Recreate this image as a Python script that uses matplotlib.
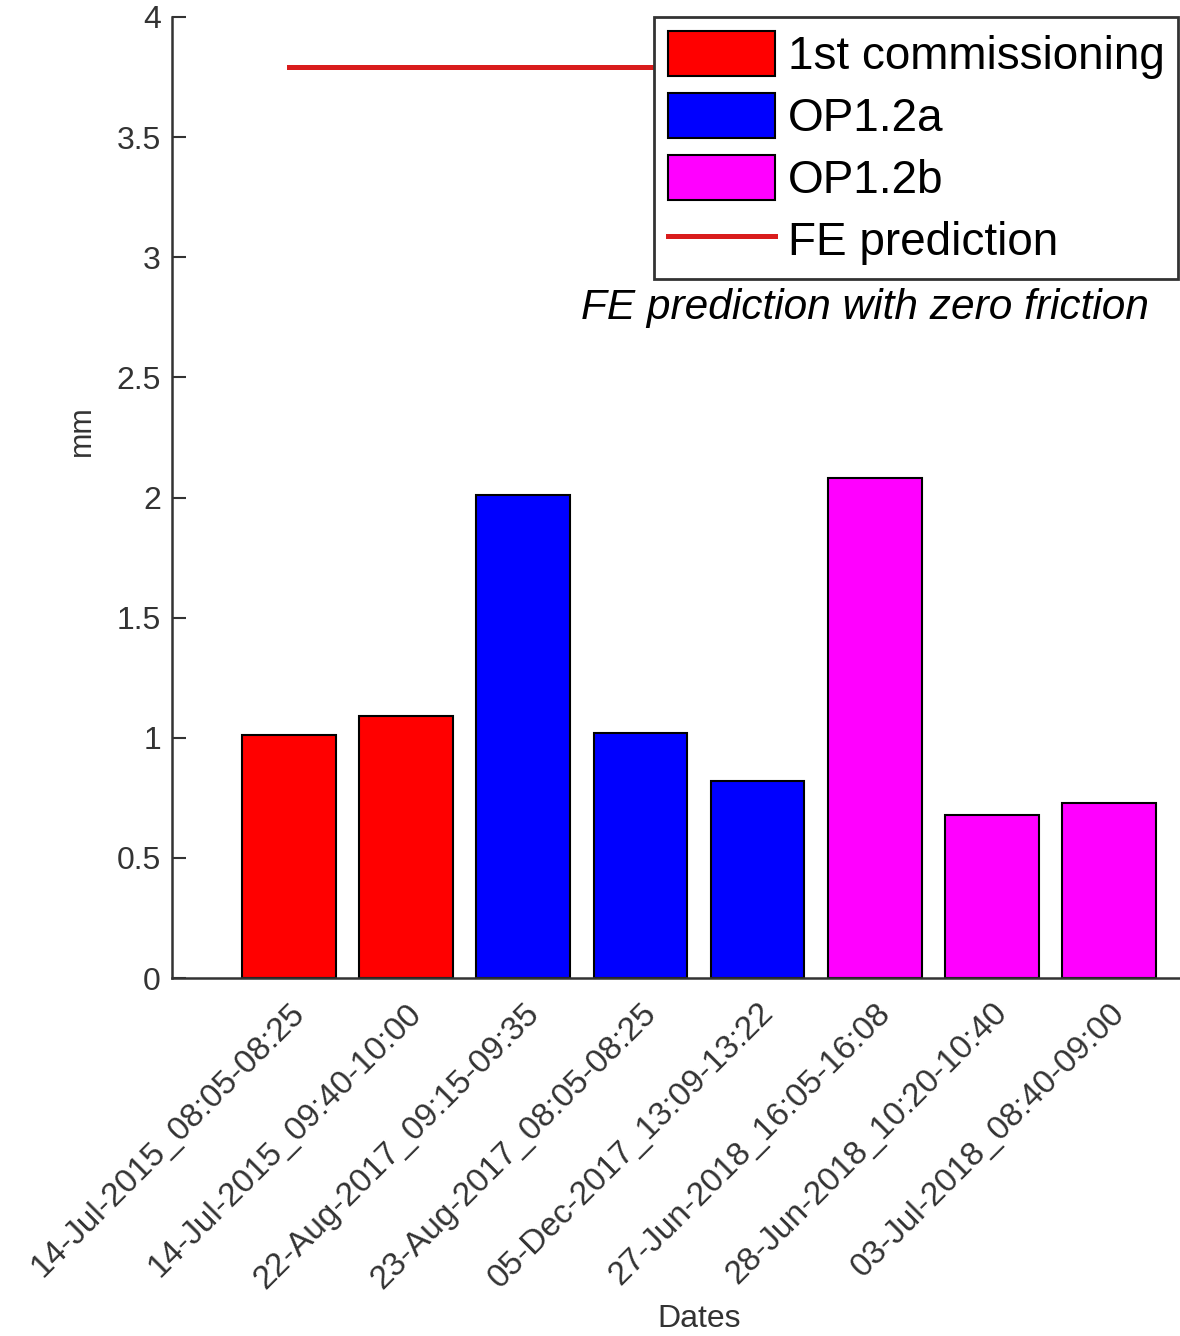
import numpy as np
import matplotlib.pyplot as plt
from matplotlib.patches import Patch
from matplotlib.lines import Line2D

# data
dates = ['14-Jul-2015_08:05-08:25', '14-Jul-2015_09:40-10:00',
         '22-Aug-2017_09:15-09:35', '23-Aug-2017_08:05-08:25',
         '05-Dec-2017_13:09-13:22', '27-Jun-2018_16:05-16:08',
         '28-Jun-2018_10:20-10:40', '03-Jul-2018_08:40-09:00']
values = [1.01, 1.09, 2.01, 1.02, 0.82, 2.08, 0.68, 0.73]
groups = ['1st commissioning', '1st commissioning', 'OP1.2a', 'OP1.2a',
          'OP1.2a', 'OP1.2b', 'OP1.2b', 'OP1.2b']
group_names = ['1st commissioning', 'OP1.2a', 'OP1.2b']
group_colors = ['#ff0000', '#0000ff', '#ff00ff']
fe_prediction = 3.79

plt.rcParams['font.family'] = ['Liberation Sans', 'DejaVu Sans']
axcol = '#333333'

fig = plt.figure(figsize=(11.8, 13.36), dpi=100)
W, H = 1180, 1336
ax = fig.add_axes([172 / W, 1 - 978 / H, 1054 / W, (978 - 17) / H])

x = np.arange(1, len(dates) + 1)
cmap = dict(zip(group_names, group_colors))
ax.bar(x, values, width=0.8, color=[cmap[g] for g in groups],
       edgecolor='black', linewidth=1.5, zorder=2)
ax.plot([x[0], x[-1]], [fe_prediction, fe_prediction], color='#d91c1c',
        linewidth=3.6, zorder=1)

ax.set_xlim(0, len(dates) + 1)
ax.set_ylim(0, 4)
ax.set_yticks(np.arange(0, 4.01, 0.5))
ax.set_yticklabels(['0', '0.5', '1', '1.5', '2', '2.5', '3', '3.5', '4'])
ax.set_xticks(x)
ax.set_xticklabels(dates, rotation=45, ha='right', va='top',
                   rotation_mode='anchor', fontsize=24, color=axcol)
ax.tick_params(axis='y', direction='in', length=10, width=1.5,
               labelsize=23, labelcolor=axcol, color=axcol, pad=8)
ax.tick_params(axis='x', length=0, pad=14)

for s in ['top', 'right']:
    ax.spines[s].set_visible(False)
for s in ['left', 'bottom']:
    ax.spines[s].set_color(axcol)
    ax.spines[s].set_linewidth(1.8)

ax.set_ylabel('mm', fontsize=22, color=axcol)
ax.yaxis.set_label_coords(-0.071, 0.57)
ax.set_xlabel('Dates', fontsize=23, color=axcol, va='bottom')
ax.xaxis.set_label_coords(0.5, -0.37)

# display coords start at the bottom left
ax.text(865, H - 308, 'FE prediction with zero friction', transform=None,
        fontsize=30.5, style='italic', ha='center', va='center')

handles = [Patch(facecolor=c, edgecolor='black', linewidth=1.5)
           for c in group_colors]
handles.append(Line2D([], [], color='#d91c1c', linewidth=3.6))
leg = fig.legend(handles, group_names + ['FE prediction'],
                 loc='upper left', bbox_to_anchor=(654 / W, 1 - 17 / H),
                 borderaxespad=0, fontsize=33, handlelength=2.35,
                 handleheight=1.15, handletextpad=0.27, labelspacing=0.3,
                 borderpad=0.3, fancybox=False, framealpha=1)
leg.get_frame().set_edgecolor(axcol)
leg.get_frame().set_linewidth(2)

fig.savefig('out.png', dpi=100)
